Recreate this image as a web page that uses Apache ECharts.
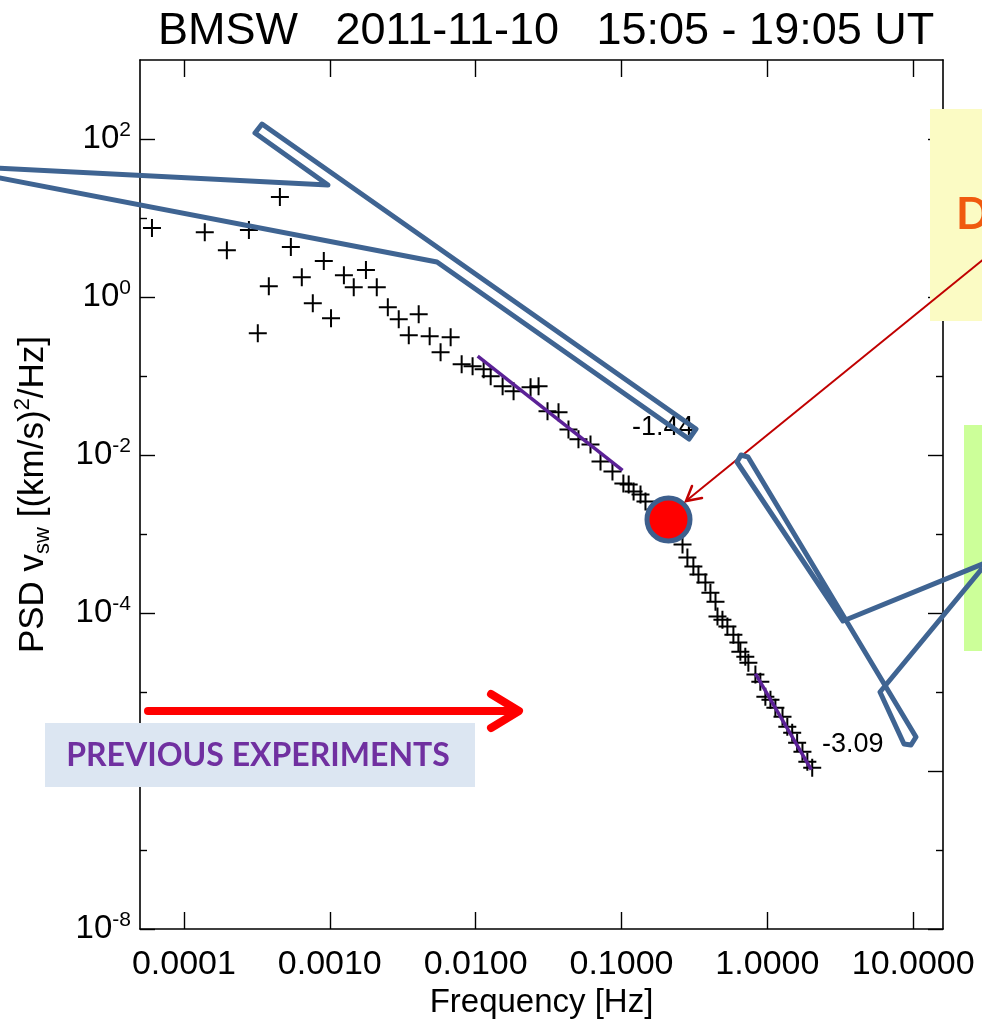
<!DOCTYPE html>
<html><head><meta charset="utf-8">
<script src="https://cdn.jsdelivr.net/npm/echarts@6/dist/echarts.min.js"></script>
<style>html,body{margin:0;padding:0;background:#fff}#c{width:982px;height:1019px}</style>
</head><body><div id="c"></div>
<script>
// ---- data ----
const titleText = 'BMSW   2011-11-10   15:05 - 19:05 UT';
const xName = 'Frequency [Hz]';
const freq = [6.04e-5, 1.39e-4, 1.97e-4, 2.79e-4, 3.21e-4, 3.82e-4, 4.55e-4, 5.41e-4, 6.43e-4, 7.65e-4,
  9.10e-4, 1.02e-3, 1.25e-3, 1.46e-3, 1.77e-3, 2.10e-3, 2.50e-3, 2.97e-3, 3.48e-3, 4.07e-3,
  4.84e-3, 5.75e-3, 6.74e-3, 8.02e-3, 9.53e-3, 0.01135, 0.01268, 0.01531, 0.0182, 0.0238,
  0.0270, 0.0311, 0.0370, 0.0433, 0.0507, 0.0613, 0.0718, 0.0867, 0.103, 0.112,
  0.121, 0.135, 0.146, 0.171, 0.197, 0.227, 0.262, 0.283, 0.311, 0.337,
  0.376, 0.407, 0.441, 0.455, 0.492, 0.532, 0.585, 0.633, 0.653, 0.706,
  0.741, 0.828, 0.895, 0.969, 1.05, 1.135, 1.27, 1.37, 1.48, 1.60,
  1.74, 1.88, 2.03];
const psd = [7.45, 6.62, 3.92, 7.03, 0.348, 1.37, 18.4, 4.28, 1.78, 0.834,
  2.85, 0.538, 1.89, 1.33, 2.19, 1.33, 0.743, 0.524, 0.328, 0.605,
  0.318, 0.200, 0.309, 0.141, 0.133, 0.122, 0.0991, 0.0740, 0.0640, 0.0719,
  0.0740, 0.0357, 0.0347, 0.0211, 0.0158, 0.0136, 0.00830, 0.00620, 0.00436, 0.00424,
  0.00346, 0.00317, 0.00258, 0.00204, 0.00153, 0.00114, 7.36e-4, 5.04e-4, 3.87e-4, 3.07e-4,
  2.43e-4, 1.81e-4, 1.39e-4, 9.0e-5, 8.24e-5, 6.73e-5, 5.32e-5, 4.22e-5, 3.24e-5, 2.80e-5,
  2.35e-5, 1.66e-5, 1.35e-5, 8.7e-6, 7.98e-6, 6.32e-6, 4.86e-6, 3.63e-6, 3.05e-6, 2.28e-6,
  1.75e-6, 1.31e-6, 1.10e-6];
const fit1Freq = [0.01033, 0.1017];
const fit1Psd = [0.178, 0.00638];
const fit2Freq = [0.828, 2.0];
const fit2Psd = [1.71e-5, 1.04e-6];
const fit1Label = '-1.44';
const fit2Label = '-3.09';
const markFreq = [0.21];
const markPsd = [0.00153];
const xTicks = [1e-4, 1e-3, 1e-2, 1e-1, 1, 10];
const yMajorTicks = [1e-8, 1e-6, 1e-4, 1e-2, 1, 1e2];
const yMinorTicks = [1e-7, 1e-5, 1e-3, 1e-1, 10];
const yLabelTicks = [1e-8, 1e-4, 1e-2, 1, 1e2];
const panelText = 'PREVIOUS EXPERIMENTS';
const boxLetter = 'D';
// ------------------------------------

const FONT = 'Liberation Sans, Arial, sans-serif';
const chart = echarts.init(document.getElementById('c'), null, {renderer: 'canvas'});

const pts = freq.map((f, i) => [f, psd[i]]);
const fit1 = fit1Freq.map((f, i) => [f, fit1Psd[i]]);
const fit2 = fit2Freq.map((f, i) => [f, fit2Psd[i]]);
const mark = markFreq.map((f, i) => [f, markPsd[i]]);

const X_MIN = 5e-5, X_MAX = 16, Y_MIN = 1e-8, Y_MAX = 1e3;

function xAx(pos, labels) {
  return {
    type: 'log', logBase: 10, position: pos, min: X_MIN, max: X_MAX,
    axisLine: {show: true, onZero: false, lineStyle: {color: '#000', width: 1.6}},
    axisTick: {show: true, inside: true, length: 17, customValues: xTicks, lineStyle: {color: '#000', width: 1.4}},
    minorTick: {show: false},
    splitLine: {show: false},
    axisLabel: labels ? {
      show: true, customValues: xTicks, margin: 19, color: '#000', fontSize: 34, fontFamily: FONT,
      formatter: v => Number(v).toFixed(4)
    } : {show: false},
    name: labels ? xName : '',
    nameLocation: 'middle', nameGap: 55,
    nameTextStyle: {color: '#000', fontSize: 33, fontFamily: FONT}
  };
}
function yAx(pos, major, labels) {
  return {
    type: 'log', logBase: 10, position: pos, min: Y_MIN, max: Y_MAX,
    axisLine: {show: major, onZero: false, lineStyle: {color: '#000', width: 1.6}},
    axisTick: {show: true, inside: true, length: major ? 15 : 7,
      customValues: major ? yMajorTicks : yMinorTicks, lineStyle: {color: '#000', width: 1.4}},
    minorTick: {show: false},
    splitLine: {show: false},
    axisLabel: labels ? {
      show: true, customValues: yLabelTicks, margin: 9, color: '#000', fontFamily: FONT,
      formatter: v => '{b|10}{s|' + Math.round(Math.log10(v)) + '}',
      rich: {
        b: {fontSize: 33, fontFamily: FONT, color: '#000', lineHeight: 38},
        s: {fontSize: 21, fontFamily: FONT, color: '#000', verticalAlign: 'top', lineHeight: 22}
      }
    } : {show: false},
    name: labels ? 'PSD v{sub|sw} [(km/s){sup|2}/Hz]' : '',
    nameLocation: 'middle', nameRotate: 90, nameGap: 86,
    nameTextStyle: {
      color: '#000', fontSize: 35, fontFamily: FONT, lineHeight: 42,
      rich: {
        sub: {fontSize: 22, fontFamily: FONT, color: '#000', verticalAlign: 'bottom', lineHeight: 21},
        sup: {fontSize: 22, fontFamily: FONT, color: '#000', verticalAlign: 'top', lineHeight: 21}
      }
    }
  };
}

const BLUE = '#3f6492';
const option = {
  animation: false,
  backgroundColor: '#fff',
  title: {
    text: titleText, left: 153, top: 4,
    textStyle: {fontSize: 45, fontWeight: 'normal', color: '#000', fontFamily: FONT}
  },
  grid: {left: 140, right: 39, top: 60, bottom: 90, containLabel: false, outerBoundsMode: 'none'},
  xAxis: [xAx('bottom', true), xAx('top', false)],
  yAxis: [yAx('left', true, true), yAx('left', false, false), yAx('right', true, false), yAx('right', false, false)],
  series: [
    {
      type: 'scatter', name: 'PSD', data: pts, xAxisIndex: 0, yAxisIndex: 0,
      symbol: 'path://M10,0L10,20M0,10L20,10', symbolSize: 18,
      itemStyle: {color: '#000', borderColor: '#000', borderWidth: 2, opacity: 1}, z: 3, silent: true
    },
    {
      type: 'line', name: 'fit1', data: fit1, showSymbol: false, symbol: 'none',
      lineStyle: {color: '#5b2196', width: 3.5, opacity: 1}, z: 4, silent: true
    },
    {
      type: 'line', name: 'fit2', data: fit2, showSymbol: false, symbol: 'none',
      lineStyle: {color: '#5b2196', width: 3.5, opacity: 1}, z: 4, silent: true
    },
    {
      type: 'scatter', name: 'mark', data: mark, symbol: 'circle', symbolSize: 43,
      itemStyle: {color: '#ff0000', borderColor: '#3d5f8d', borderWidth: 5, opacity: 1}, z: 10, silent: true
    }
  ],
  graphic: [
    {type: 'text', z: 40, style: {x: 632, y: 428, text: fit1Label, font: '27px ' + FONT, fill: '#000', verticalAlign: 'middle'}},
    {type: 'text', z: 40, style: {x: 822, y: 745, text: fit2Label, font: '27px ' + FONT, fill: '#000', verticalAlign: 'middle'}},
    {type: 'rect', z: 45, shape: {x: 930, y: 109, width: 60, height: 212}, style: {fill: '#fbfbc4'}},
    {type: 'text', z: 46, style: {x: 956, y: 215, text: boxLetter, font: 'bold 44px Lato, sans-serif', fill: '#f05a0f', verticalAlign: 'middle'}},
    {type: 'rect', z: 45, shape: {x: 964, y: 425, width: 30, height: 226}, style: {fill: '#ccff99'}},
    {type: 'rect', z: 45, shape: {x: 45, y: 723, width: 430, height: 64}, style: {fill: '#dce6f2'}},
    {type: 'text', z: 46, style: {x: 258, y: 756, text: panelText, font: 'bold 32px Lato, sans-serif', fill: '#7030a0', align: 'center', verticalAlign: 'middle'}},
    {type: 'line', z: 47, shape: {x1: 148, y1: 711, x2: 515, y2: 711}, style: {stroke: '#ff0000', lineWidth: 8, lineCap: 'round'}},
    {type: 'polyline', z: 47, shape: {points: [[491, 694], [519, 711], [491, 728]]}, style: {stroke: '#ff0000', lineWidth: 8, lineCap: 'round', lineJoin: 'round', fill: null}},
    {type: 'line', z: 48, shape: {x1: 990, y1: 254, x2: 686, y2: 501}, style: {stroke: '#c00000', lineWidth: 2}},
    {type: 'polyline', z: 48, shape: {points: [[702, 498], [686, 501], [692, 486]]}, style: {stroke: '#c00000', lineWidth: 2.5, fill: null, lineCap: 'round'}},
    {type: 'polyline', z: 50, shape: {points: [[-5, 168], [328, 185], [255, 133], [262, 124], [696, 429], [689, 439], [437, 262], [-5, 177]]},
      style: {stroke: BLUE, lineWidth: 5, fill: null, lineJoin: 'round'}},
    {type: 'polyline', z: 50, shape: {points: [[990, 561], [843, 621], [737, 462], [741, 455], [748, 457], [916, 737], [911, 745], [904, 744], [880, 692], [990, 559]]},
      style: {stroke: BLUE, lineWidth: 5, fill: null, lineJoin: 'round'}}
  ]
};
chart.setOption(option);
</script>
</body></html>
